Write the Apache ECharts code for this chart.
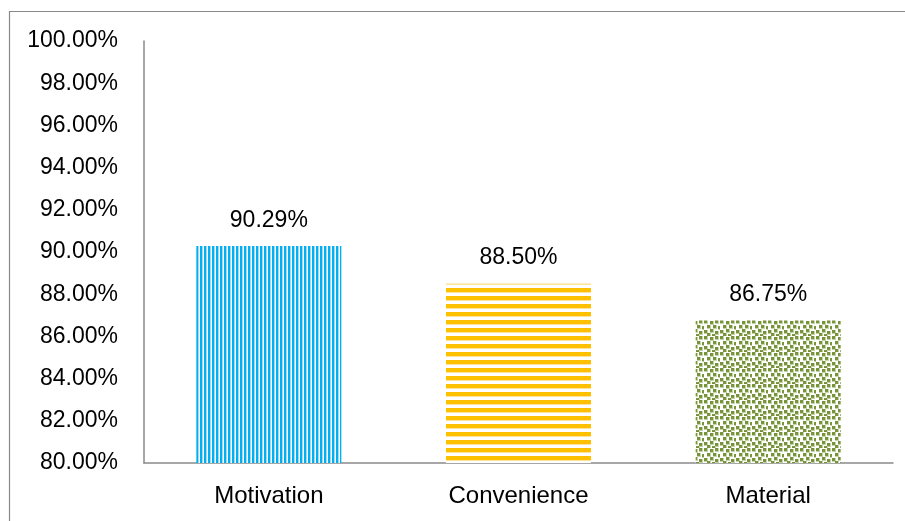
<!DOCTYPE html>
<html>
<head>
<meta charset="utf-8">
<script src="https://cdn.jsdelivr.net/npm/echarts@6/dist/echarts.min.js"></script>
<style>html,body{margin:0;padding:0;background:#fff}#c{width:905px;height:521px}</style>
</head>
<body>
<div id="c"></div>
<script>
const categories = ['Motivation', 'Convenience', 'Material'];
const values = [90.29, 88.50, 86.75];
const yMin = 80, yMax = 100, yStep = 2;

function makePattern(kind) {
  const c = document.createElement('canvas');
  const ctx = c.getContext('2d');
  if (kind === 'v') {
    c.width = 4; c.height = 4;
    ctx.fillStyle = '#ffffff'; ctx.fillRect(0, 0, 4, 4);
    ctx.fillStyle = '#00B0F0'; ctx.fillRect(0, 0, 2, 4);
    ctx.fillStyle = '#9FDDF7'; ctx.fillRect(2, 0, 1, 4);
  } else if (kind === 'h') {
    c.width = 8; c.height = 8;
    ctx.fillStyle = '#ffffff'; ctx.fillRect(0, 0, 8, 8);
    ctx.fillStyle = '#FFC000'; ctx.fillRect(0, 0, 8, 4);
    ctx.fillStyle = '#FFE59A'; ctx.fillRect(0, 4, 8, 1);
  } else {
    c.width = 16; c.height = 16;
    ctx.fillStyle = '#ffffff'; ctx.fillRect(0, 0, 16, 16);
    const sq = [[0,0],[6,1],[11,0],[3,5],[9,5],[14,6],[0,10],[6,9],[11,11],[3,13],[8,14]];
    ctx.fillStyle = '#C5D5A8';
    sq.forEach(([x, y]) => ctx.fillRect(x, y, 4, 4));
    ctx.fillStyle = '#77933C';
    sq.forEach(([x, y]) => ctx.fillRect(x, y, 3, 3));
  }
  return { image: c, repeat: 'repeat' };
}
const patterns = [makePattern('v'), makePattern('h'), makePattern('c')];

const chart = echarts.init(document.getElementById('c'), null, { renderer: 'canvas' });
const font = '"Liberation Sans", Arial, sans-serif';
chart.setOption({
  animation: false,
  backgroundColor: '#ffffff',
  graphic: [{
    type: 'rect', silent: true, z: 0,
    shape: { x: 9.5, y: 11.5, width: 1000, height: 1000 },
    style: { fill: 'none', stroke: '#8a8a8a', lineWidth: 1.2 }
  }],
  grid: { left: 144, right: 12, top: 41, bottom: 58 },
  xAxis: {
    type: 'category',
    data: categories,
    axisLine: { lineStyle: { color: '#8a8a8a', width: 1.5 } },
    axisTick: { show: false },
    axisLabel: { color: '#000', fontFamily: font, fontSize: 24, margin: 21 }
  },
  yAxis: {
    type: 'value',
    min: yMin, max: yMax, interval: yStep,
    axisLine: { show: true, lineStyle: { color: '#8a8a8a', width: 1.5 } },
    axisTick: { show: false },
    splitLine: { show: false },
    axisLabel: {
      color: '#000', fontFamily: font, fontSize: 23, margin: 26,
      formatter: v => v.toFixed(2) + '%'
    }
  },
  series: [{
    type: 'bar',
    barWidth: 145,
    data: values.map((v, i) => ({ value: v, itemStyle: { color: patterns[i] } })),
    label: {
      show: true, position: 'top', distance: 14,
      color: '#000', fontFamily: font, fontSize: 23,
      formatter: p => p.value.toFixed(2) + '%'
    }
  }]
});
</script>
</body>
</html>
